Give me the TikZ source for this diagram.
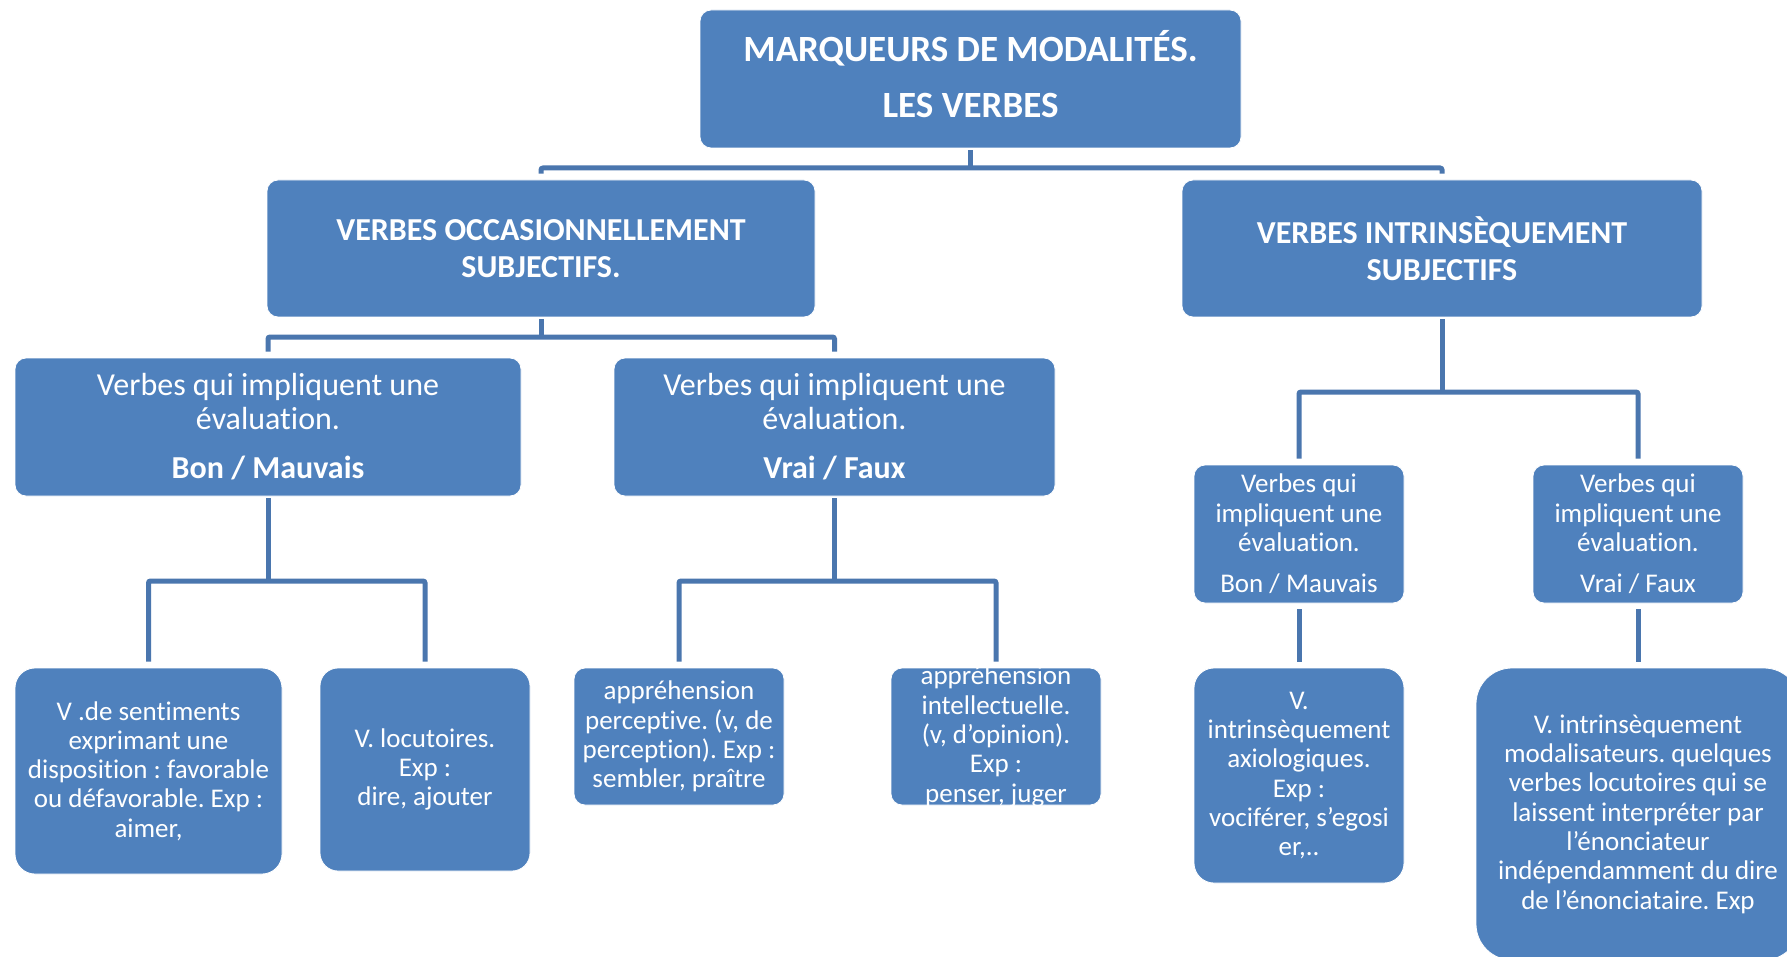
\documentclass[tikz,border=0pt]{standalone}
\usepackage{fontspec}
\setmainfont{Carlito}[Ligatures=NoCommon]
\frenchspacing
\definecolor{boxblue}{HTML}{4F81BD}
\definecolor{lineblue}{HTML}{4A76AE}
\begin{document}
\begin{tikzpicture}[x=1pt,y=-1pt,
  box/.style={fill=boxblue, draw=white, line width=0.8pt, rounded corners=11pt,
    text=white, align=center, inner sep=0pt},
  boxtext/.style={text=white, align=center, inner sep=0pt},
  ftop/.style={font=\fontsize{37}{45}\selectfont\bfseries},
  fmid/.style={font=\fontsize{32}{36.5}\selectfont\bfseries},
  fthree/.style={font=\fontsize{32}{34}\selectfont},
  fsmall/.style={font=\fontsize{27}{29.3}\selectfont},
  conn/.style={draw=lineblue, line width=5pt, rounded corners=2pt},
  drop/.style={conn, shorten <=6pt, shorten >=6pt},
  stub/.style={conn, shorten <=2pt}]
\useasboundingbox[fill=white] (0,0) rectangle (1787,957);

% level 1
\node[box, minimum width=541pt, minimum height=138pt] (top) at (970.5,79) {};
\node[boxtext, ftop, yshift=5pt] (toptxt) at (top.center)
  {MARQUEURS DE MODALITÉS.\\[11pt]LES VERBES};

% level 2
\node[box, fmid, minimum width=548pt, minimum height=137pt] (occ) at (541,248.5)
  {VERBES OCCASIONNELLEMENT\\SUBJECTIFS.};
\node[box, fmid, minimum width=520pt, minimum height=137pt] (intr) at (1442,248.5)
  {VERBES INTRINSÈQUEMENT\\SUBJECTIFS};

% level 3
\node[box, fthree, minimum width=506pt, minimum height=138pt] (bm) at (268,427)
  {Verbes qui impliquent une\\évaluation.\\[15pt]\textbf{Bon / Mauvais}};
\node[box, fthree, minimum width=441pt, minimum height=138pt] (vf) at (834.5,427)
  {Verbes qui impliquent une\\évaluation.\\[15pt]\textbf{Vrai / Faux}};
\node[box, fsmall, minimum width=210pt, minimum height=138pt] (ibm) at (1299,534)
  {Verbes qui\\impliquent une\\évaluation.\\[12pt]Bon / Mauvais};
\node[box, fsmall, minimum width=210pt, minimum height=138pt] (ivf) at (1638,534)
  {Verbes qui\\impliquent une\\évaluation.\\[12pt]Vrai / Faux};

% level 4
\node[box, fsmall, rounded corners=20pt, minimum width=267pt, minimum height=206pt] (sent) at (148.5,771)
  {V .de sentiments\\exprimant une\\disposition : favorable\\ou défavorable. Exp :\\aimer,};
\node[box, fsmall, rounded corners=18pt, minimum width=210pt, minimum height=203pt] (loc) at (425,769.5)
  {V. locutoires.\\Exp :\\dire, ajouter};
\node[box, fsmall, minimum width=210pt, minimum height=137pt] (perc) at (679,736.5)
  {appréhension\\perceptive. (v, de\\perception). Exp :\\sembler, praître};
\node[box, minimum width=210pt, minimum height=137pt] (intel) at (996,736.5) {};
\node[boxtext, fsmall] (inteltxt) at (intel.center)
  {appréhension\\intellectuelle.\\(v, d’opinion).\\Exp :\\penser, juger};
\node[box, fsmall, rounded corners=20pt, minimum width=210pt, minimum height=215pt] (axio) at (1299,775.5)
  {V.\\intrinsèquement\\axiologiques.\\Exp :\\vociférer, s’egosi\\er,..};
\node[box, fsmall, rounded corners=36pt, minimum width=324pt, minimum height=292pt] (moda) at (1638,814)
  {V. intrinsèquement\\modalisateurs. quelques\\verbes locutoires qui se\\laissent interpréter par\\l’énonciateur\\indépendamment du dire\\de l’énonciataire. Exp};

% connectors
\draw[stub] (top.south) -- (top.south |- 0,168);
\draw[drop] (occ.north) -- (occ.north |- 0,168) -- (intr.north |- 0,168) -- (intr.north);

\draw[stub] (occ.south) -- (occ.south |- 0,337);
\draw[drop] (bm.north) -- (bm.north |- 0,337) -- (vf.north |- 0,337) -- (vf.north);

\draw[stub] (intr.south) -- (intr.south |- 0,392);
\draw[drop] (ibm.north) -- (ibm.north |- 0,392) -- (ivf.north |- 0,392) -- (ivf.north);

\draw[stub] (bm.south) -- (bm.south |- 0,581);
\draw[drop] (sent.north) -- (sent.north |- 0,581) -- (loc.north |- 0,581) -- (loc.north);

\draw[stub] (vf.south) -- (vf.south |- 0,581);
\draw[drop] (perc.north) -- (perc.north |- 0,581) -- (intel.north |- 0,581) -- (intel.north);

\draw[conn, shorten <=6pt, shorten >=6pt] (ibm.south) -- (axio.north);
\draw[conn, shorten <=6pt, shorten >=6pt] (ivf.south) -- (moda.north);
\end{tikzpicture}
\end{document}
